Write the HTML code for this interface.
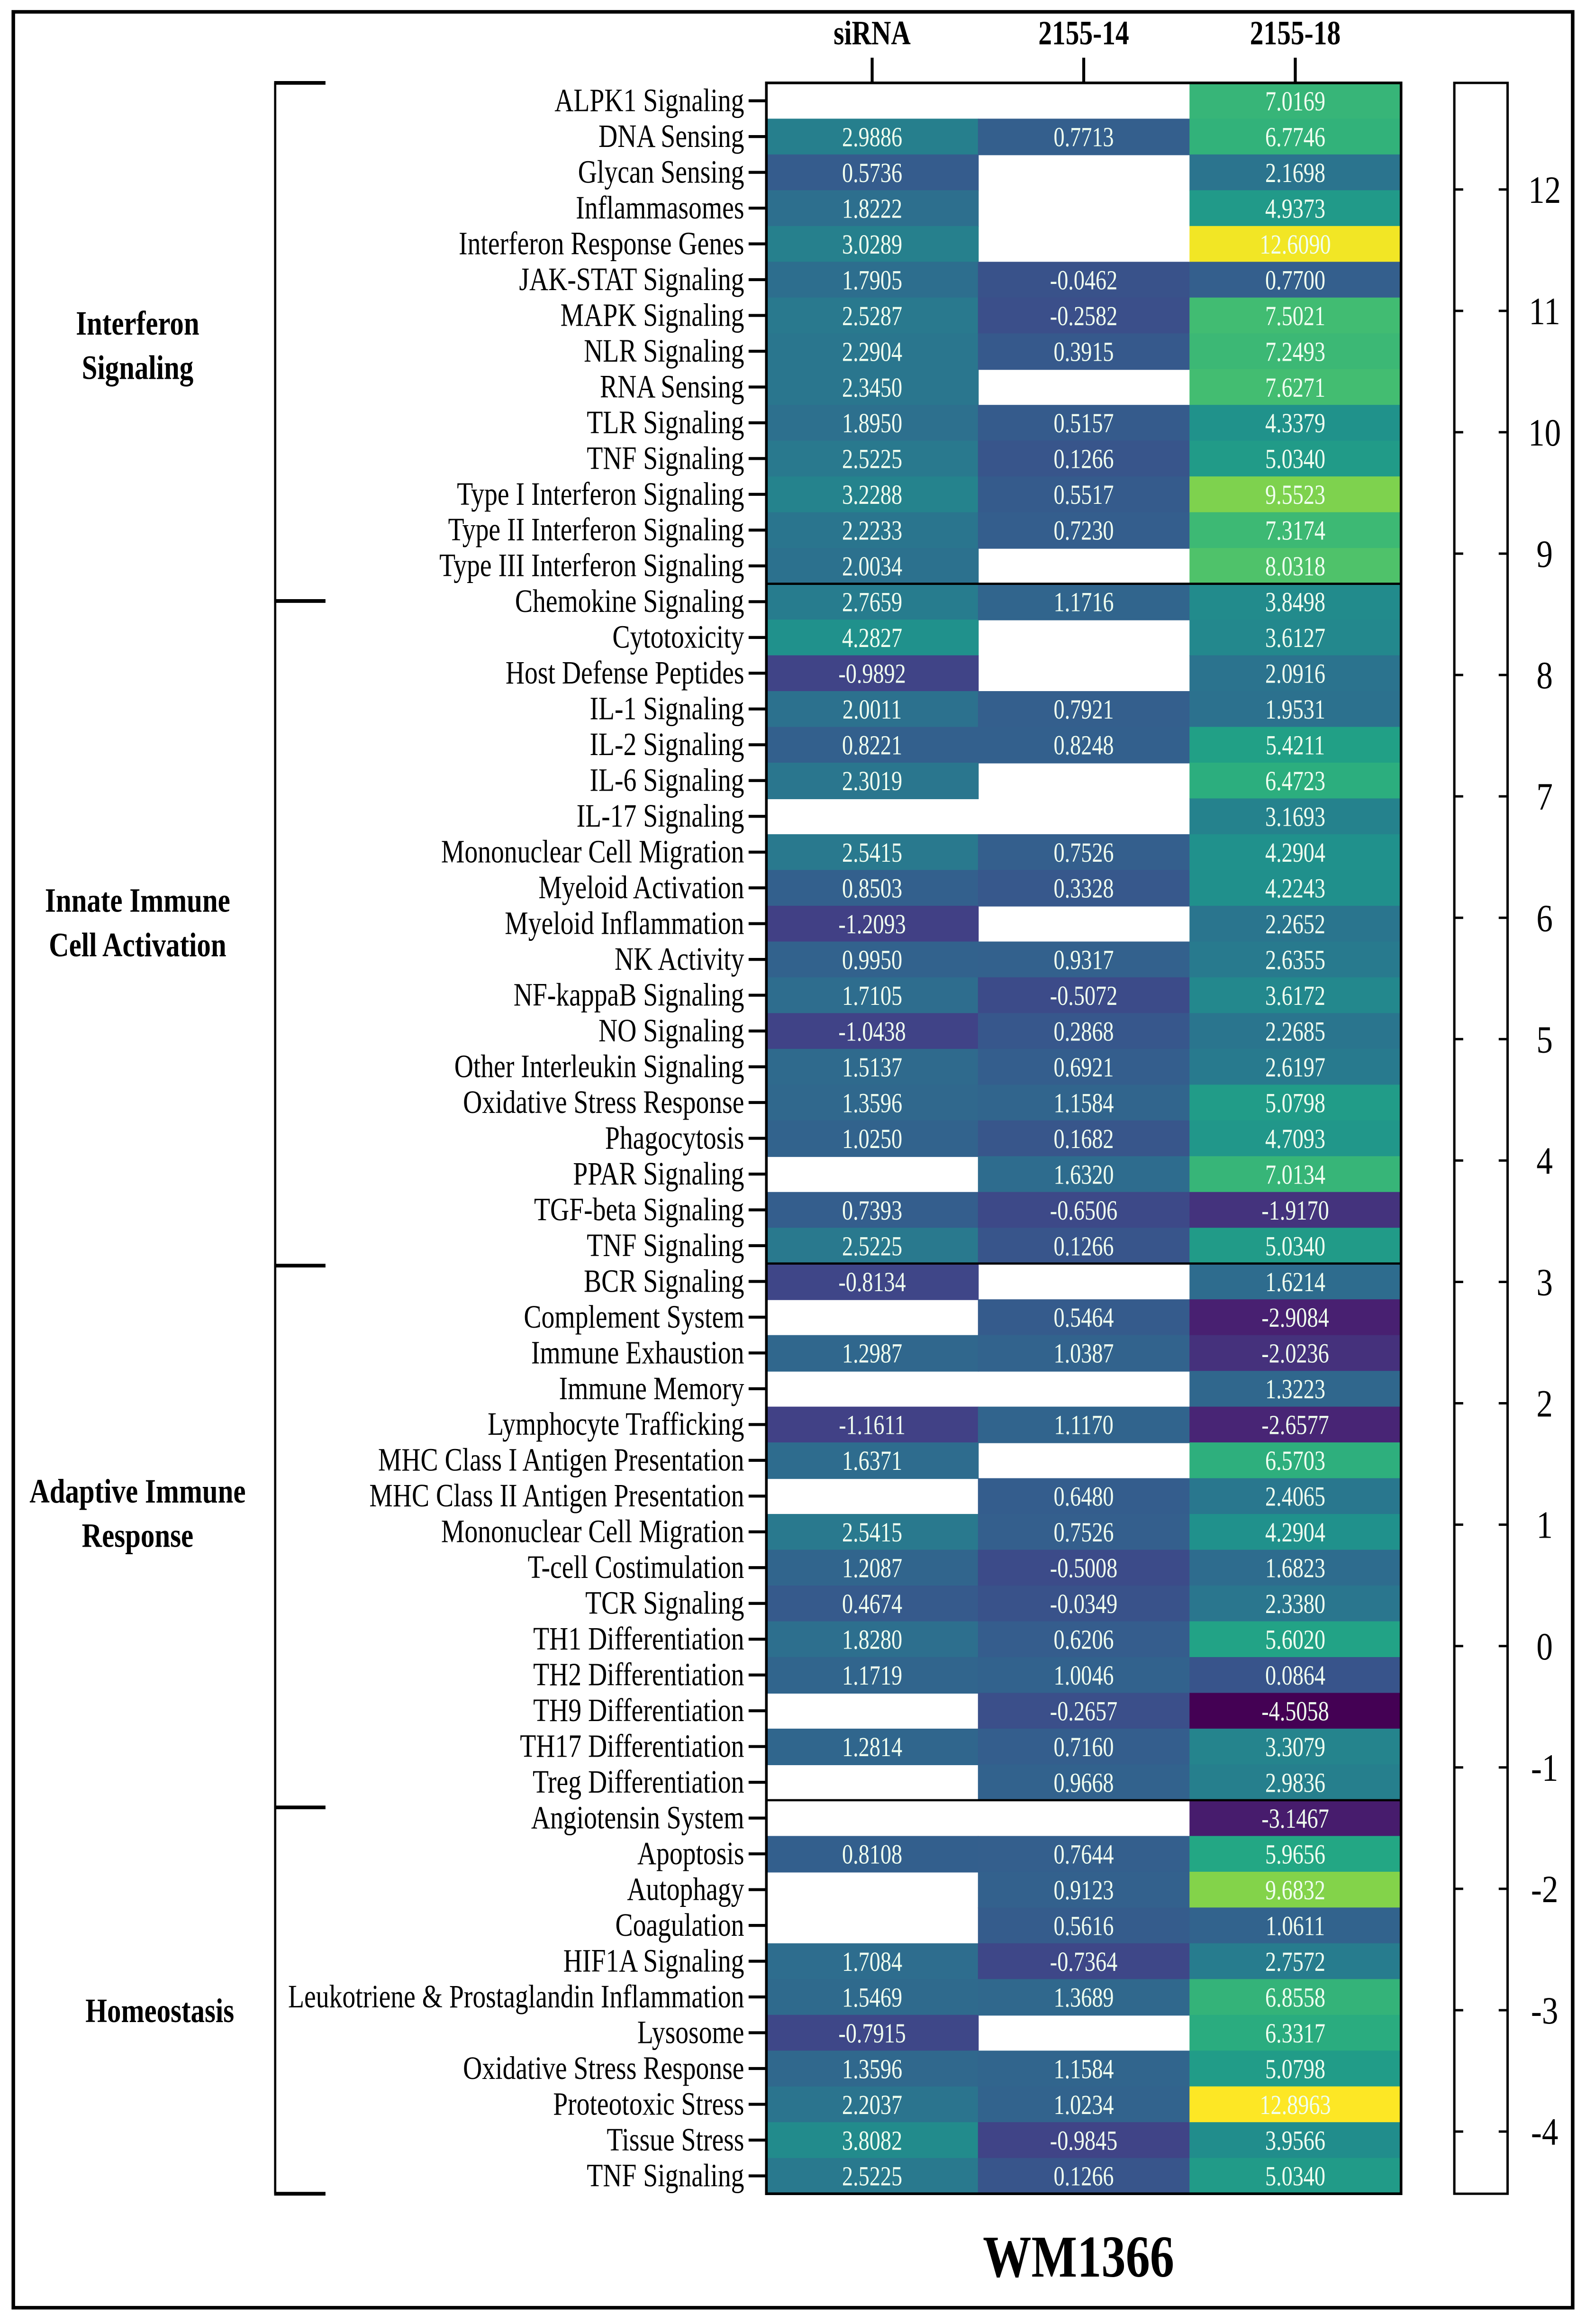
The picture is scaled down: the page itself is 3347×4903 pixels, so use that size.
<!DOCTYPE html>
<html><head><meta charset="utf-8"><style>
html,body{margin:0;padding:0;background:#fff;}
svg{display:block;}
</style></head><body>
<svg id="chart" xmlns="http://www.w3.org/2000/svg" width="3347" height="4903" viewBox="0 0 1072 1570" preserveAspectRatio="none" font-family="'Liberation Serif', serif">
<rect x="9" y="8" width="1054" height="1551" fill="none" stroke="#000" stroke-width="2.4"/>
<g id="cells"></g>
<g id="labels"></g>
<g id="extra"></g>
</svg>
<script>
const categories = ["ALPK1 Signaling","DNA Sensing","Glycan Sensing","Inflammasomes","Interferon Response Genes","JAK-STAT Signaling","MAPK Signaling","NLR Signaling","RNA Sensing","TLR Signaling","TNF Signaling","Type I Interferon Signaling","Type II Interferon Signaling","Type III Interferon Signaling",
"Chemokine Signaling","Cytotoxicity","Host Defense Peptides","IL-1 Signaling","IL-2 Signaling","IL-6 Signaling","IL-17 Signaling","Mononuclear Cell Migration","Myeloid Activation","Myeloid Inflammation","NK Activity","NF-kappaB Signaling","NO Signaling","Other Interleukin Signaling","Oxidative Stress Response","Phagocytosis","PPAR Signaling","TGF-beta Signaling","TNF Signaling",
"BCR Signaling","Complement System","Immune Exhaustion","Immune Memory","Lymphocyte Trafficking","MHC Class I Antigen Presentation","MHC Class II Antigen Presentation","Mononuclear Cell Migration","T-cell Costimulation","TCR Signaling","TH1 Differentiation","TH2 Differentiation","TH9 Differentiation","TH17 Differentiation","Treg Differentiation",
"Angiotensin System","Apoptosis","Autophagy","Coagulation","HIF1A Signaling","Leukotriene & Prostaglandin Inflammation","Lysosome","Oxidative Stress Response","Proteotoxic Stress","Tissue Stress","TNF Signaling"];
const columns = ["siRNA","2155-14","2155-18"];
const siRNA = [null,2.9886,0.5736,1.8222,3.0289,1.7905,2.5287,2.2904,2.3450,1.8950,2.5225,3.2288,2.2233,2.0034,
2.7659,4.2827,-0.9892,2.0011,0.8221,2.3019,null,2.5415,0.8503,-1.2093,0.9950,1.7105,-1.0438,1.5137,1.3596,1.0250,null,0.7393,2.5225,
-0.8134,null,1.2987,null,-1.1611,1.6371,null,2.5415,1.2087,0.4674,1.8280,1.1719,null,1.2814,null,
null,0.8108,null,null,1.7084,1.5469,-0.7915,1.3596,2.2037,3.8082,2.5225];
const kd14 = [null,0.7713,null,null,null,-0.0462,-0.2582,0.3915,null,0.5157,0.1266,0.5517,0.7230,null,
1.1716,null,null,0.7921,0.8248,null,null,0.7526,0.3328,null,0.9317,-0.5072,0.2868,0.6921,1.1584,0.1682,1.6320,-0.6506,0.1266,
null,0.5464,1.0387,null,1.1170,null,0.6480,0.7526,-0.5008,-0.0349,0.6206,1.0046,-0.2657,0.7160,0.9668,
null,0.7644,0.9123,0.5616,-0.7364,1.3689,null,1.1584,1.0234,-0.9845,0.1266];
const kd18 = [7.0169,6.7746,2.1698,4.9373,12.6090,0.7700,7.5021,7.2493,7.6271,4.3379,5.0340,9.5523,7.3174,8.0318,
3.8498,3.6127,2.0916,1.9531,5.4211,6.4723,3.1693,4.2904,4.2243,2.2652,2.6355,3.6172,2.2685,2.6197,5.0798,4.7093,7.0134,-1.9170,5.0340,
1.6214,-2.9084,-2.0236,1.3223,-2.6577,6.5703,2.4065,4.2904,1.6823,2.3380,5.6020,0.0864,-4.5058,3.3079,2.9836,
-3.1467,5.9656,9.6832,1.0611,2.7572,6.8558,6.3317,5.0798,12.8963,3.9566,5.0340];
const colorTicks = [12,11,10,9,8,7,6,5,4,3,2,1,0,-1,-2,-3,-4];
const groupNames = [["Interferon","Signaling"],["Innate Immune","Cell  Activation"],["Adaptive Immune","Response"],["Homeostasis"]];
const groupSizes = [14,19,15,11];

const NS="http://www.w3.org/2000/svg";
function mk(tag,attrs,parent,text){const e=document.createElementNS(NS,tag);for(const k in attrs)e.setAttribute(k,attrs[k]);if(text!==undefined)e.textContent=text;parent.appendChild(e);return e;}
const X0=518,X1=947,Y0=56,Y1=1482;
const nR=categories.length, cw=(X1-X0)/3, rh=(Y1-Y0)/nR;
function xCol(i){return X0+i*cw;}
function yRow(i){return Y0+i*rh;}
const VMIN=-4.5058, VMAX=12.8963;
const vir=[[68,1,84],[72,35,116],[64,67,135],[52,94,141],[41,120,142],[32,144,140],[34,167,132],[68,190,112],[121,209,81],[189,222,38],[253,231,37]];
function color(v){let t=(v-VMIN)/(VMAX-VMIN);t=Math.max(0,Math.min(1,t))*(vir.length-1);const i=Math.min(vir.length-2,Math.floor(t)),f=t-i;const c=vir[i].map((a,k)=>Math.round(a+(vir[i+1][k]-a)*f));return `rgb(${c})`;}
const cells=document.getElementById('cells'),labels=document.getElementById('labels'),extra=document.getElementById('extra');
const series=[siRNA,kd14,kd18];
series.forEach((s,c)=>{s.forEach((v,r)=>{
  if(v===null)return;
  const rc=mk('rect',{x:xCol(c),y:yRow(r),width:cw+0.5,height:rh+0.5,fill:color(v)},cells);
  
  
  const g=mk('g',{transform:`translate(${xCol(c)+cw/2},${yRow(r)+rh/2+6.5}) scale(0.8,1)`},cells);
  const t=mk('text',{x:0,y:0,'text-anchor':'middle','font-size':18.5,fill:'#f0fff0'},g,v.toFixed(4));
  
  
});});
let acc=0;const bounds=[0];groupSizes.forEach(n=>{acc+=n;bounds.push(acc);});
bounds.slice(1,-1).forEach(b=>{const l=mk('line',{x1:X0,x2:X1,y1:yRow(b),y2:yRow(b),stroke:'#000','stroke-width':1.5},extra);
});
const fr=mk('rect',{x:X0,y:Y0,width:X1-X0,height:Y1-Y0,fill:'none',stroke:'#000','stroke-width':1.8},extra);

categories.forEach((name,r)=>{const y=yRow(r)+rh/2;
  mk('line',{x1:506,x2:X0,y1:y,y2:y,stroke:'#000','stroke-width':2},labels);
  const g=mk('g',{transform:`translate(503,${y+7}) scale(0.81,1)`},labels);
  const t=mk('text',{x:0,y:0,'text-anchor':'end','font-size':22},g,name);
  });
columns.forEach((name,c)=>{const x=xCol(c)+cw/2;
  mk('line',{x1:x,x2:x,y1:39,y2:Y0,stroke:'#000','stroke-width':2},labels);
  const g=mk('g',{transform:`translate(${x},${30}) scale(0.8,1)`},labels);
  const t=mk('text',{x:0,y:0,'text-anchor':'middle','font-size':23,'font-weight':'bold'},g,name);
  });
const BX=186;
const br=mk('line',{x1:BX,x2:BX,y1:Y0,y2:Y1,stroke:'#000','stroke-width':1.5},extra);

const bys=[56,406,855,1221,1482];
bys.forEach(y=>mk('line',{x1:BX-0.7,x2:220,y1:y,y2:y,stroke:'#000','stroke-width':2.5},extra));
const gCenters=[233,623,1022,1358];
const gX=[93,93,93,108];
groupNames.forEach((lines,i)=>{const cy=gCenters[i];const x=gX[i];
  lines.forEach((ln,j)=>{const y=cy+8+(j-(lines.length-1)/2)*30;
   const g=mk('g',{transform:`translate(${x},${y}) scale(0.82,1)`},extra);
   const t=mk('text',{x:0,y:0,'text-anchor':'middle','font-size':23,'font-weight':'bold'},g,ln);
   });});
const CB0=983,CB1=1019;
const cb=mk('rect',{x:CB0,y:Y0,width:CB1-CB0,height:Y1-Y0,fill:'#fff',stroke:'#000','stroke-width':1.6},extra);

function yCb(v){return 1112-v*82;}
colorTicks.forEach(v=>{const y=yCb(v);
  mk('line',{x1:CB0,x2:CB0+6,y1:y,y2:y,stroke:'#000','stroke-width':1.6},extra);
  mk('line',{x1:CB1-6,x2:CB1,y1:y,y2:y,stroke:'#000','stroke-width':1.6},extra);
  const g=mk('g',{transform:`translate(1044,${y+9}) scale(0.85,1)`},extra);
  const t=mk('text',{x:0,y:0,'text-anchor':'middle','font-size':26},g,String(v));
  });
const tg=mk('g',{transform:'translate(729,1538) scale(0.82,1)'},extra);
const tt=mk('text',{x:0,y:0,'text-anchor':'middle','font-size':40,'font-weight':'bold'},tg,'WM1366');

</script>
</body></html>
